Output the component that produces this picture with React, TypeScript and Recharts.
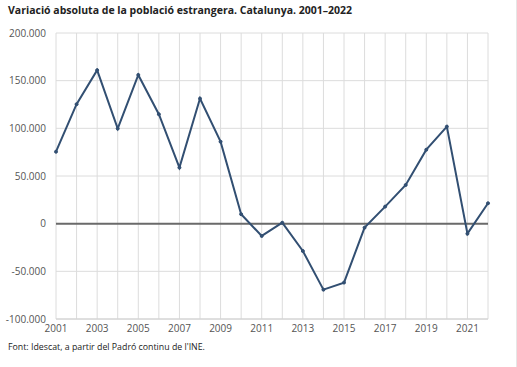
import React from 'react';
import { LineChart, Line, XAxis, YAxis, CartesianGrid, ReferenceLine } from 'recharts';

const years = [2001, 2002, 2003, 2004, 2005, 2006, 2007, 2008, 2009, 2010, 2011, 2012, 2013, 2014, 2015, 2016, 2017, 2018, 2019, 2020, 2021, 2022];
const variation = [75500, 125300, 161000, 99700, 156000, 114800, 58800, 131200, 86000, 9900, -12900, 1000, -28700, -69200, -61800, -4200, 17900, 40600, 77600, 101800, -10500, 21400];
const yTicks = [-100000, -50000, 0, 50000, 100000, 150000, 200000];
const title = 'Variació absoluta de la població estrangera. Catalunya. 2001–2022';
const source = "Font: Idescat, a partir del Padró continu de l'INE.";

const data = years.map((y, i) => ({ year: y, value: variation[i] }));

const fmt = (v: number) => {
  const s = Math.abs(v).toString().replace(/\B(?=(\d{3})+(?!\d))/g, '.');
  return (v < 0 ? '-' : '') + s;
};

const font = '"Open Sans", sans-serif';

export default function App() {
  return (
    <div style={{ position: 'absolute', left: 0, top: 0, width: 517, height: 367, background: '#fff', fontFamily: font, overflow: 'hidden' }}>
      <div style={{ position: 'absolute', left: 8, top: 3, fontSize: 10.5, fontWeight: 700, color: '#222', whiteSpace: 'nowrap' }}>{title}</div>
      <div style={{ position: 'absolute', left: 516, top: 0, width: 1, height: 367, background: '#e6e6e6' }} />
      <div style={{ position: 'absolute', left: 0, top: 0 }}>
        <LineChart width={517} height={345} data={data} margin={{ top: 33, right: 29, left: 0, bottom: 6 }}>
          <CartesianGrid stroke="#dcdcdc" strokeWidth={1} />
          <XAxis
            dataKey="year"
            type="number"
            domain={[2001, 2022]}
            ticks={years}
            interval={0}
            tickFormatter={(v: number) => (v % 2 === 1 ? String(v) : '')}
            tickLine={false}
            axisLine={{ stroke: '#d0d0d0' }}
            tick={{ fontSize: 10, fill: '#555', fontFamily: font }}
            height={20}
            tickMargin={0}
          />
          <YAxis
            domain={[-100000, 200000]}
            ticks={yTicks}
            tickFormatter={fmt}
            tickLine={false}
            axisLine={false}
            width={56}
            tick={{ fontSize: 10, fill: '#555', fontFamily: font }}
            tickMargin={4}
          />
          <ReferenceLine y={0} stroke="#6a6a6a" strokeWidth={2} />
          <Line
            type="linear"
            dataKey="value"
            stroke="#324f72"
            strokeWidth={2}
            dot={{ r: 1.5, fill: '#324f72', stroke: '#324f72', strokeWidth: 1 }}
            isAnimationActive={false}
          />
        </LineChart>
      </div>
      <div style={{ position: 'absolute', left: 8, top: 341, fontSize: 8.8, color: '#222', whiteSpace: 'nowrap' }}>{source}</div>
    </div>
  );
}
